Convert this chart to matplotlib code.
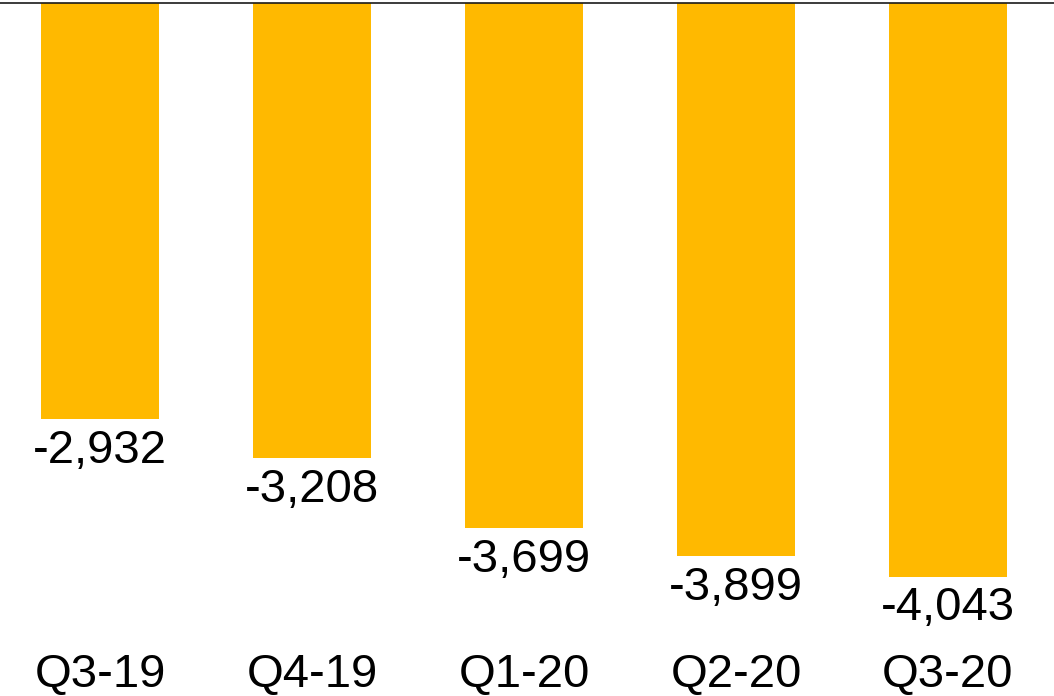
import matplotlib
matplotlib.use("Agg")
import matplotlib.pyplot as plt

quarters = ["Q3-19", "Q4-19", "Q1-20", "Q2-20", "Q3-20"]
values = [-2932, -3208, -3699, -3899, -4043]

plt.rcParams["font.family"] = ["Liberation Sans", "DejaVu Sans"]

W, H = 1054, 696
fig = plt.figure(figsize=(W / 100, H / 100), dpi=100)
top_px, bottom_px = 3, 650
ax = fig.add_axes([0, 1 - bottom_px / H, 1, (bottom_px - top_px) / H])

x = list(range(len(quarters)))
ax.bar(x, values, width=0.557, color="#FFB900", zorder=1)

for xi, v in zip(x, values):
    ax.annotate(f"{v:,}", (xi, v), xytext=(0, -7),
                textcoords="offset points", ha="center", va="top",
                fontsize=34, color="black")

ax.set_xlim(-100 / 212, (W - 100) / 212)
ax.set_ylim(-(bottom_px - top_px) / 0.1419, 0)

ax.set_xticks(x)
ax.set_xticklabels(quarters, fontsize=34)
ax.tick_params(axis="x", length=0, pad=2)
ax.set_yticks([])

for s in ["left", "right", "bottom"]:
    ax.spines[s].set_visible(False)
ax.spines["top"].set_color("#1a1a1a")
ax.spines["top"].set_linewidth(1.2)
ax.spines["top"].set_zorder(3)

fig.savefig("out.png", dpi=100)
